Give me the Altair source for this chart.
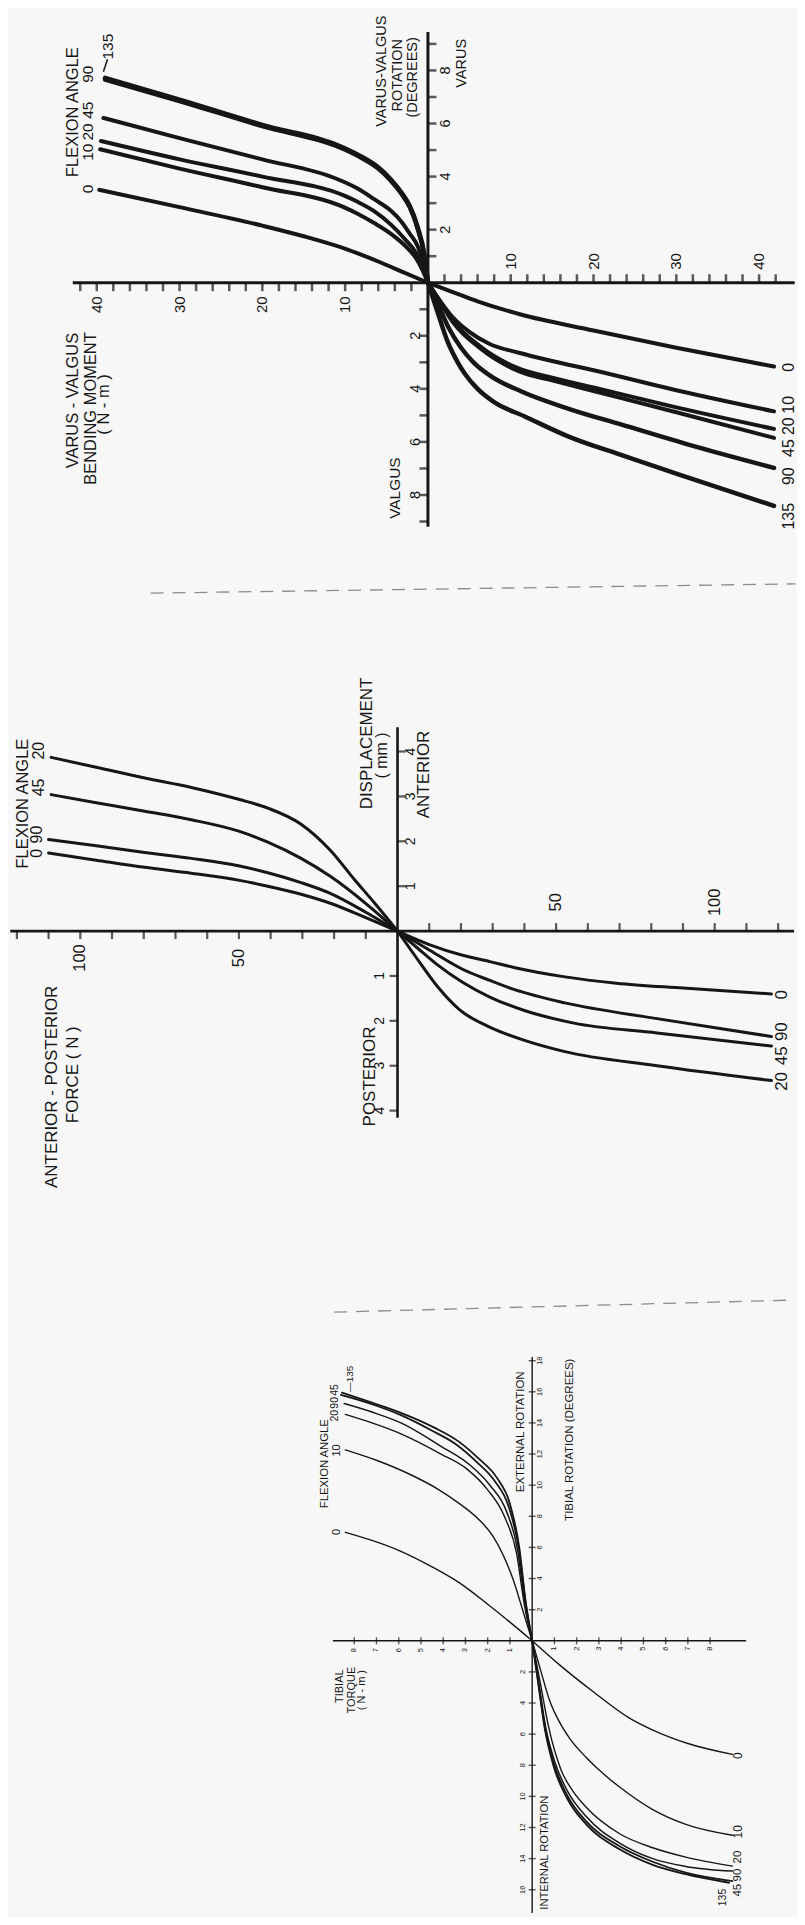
import altair as alt
import pandas as pd

INK = "#161616"
BG = "#f7f7f7"
FONT = "Liberation Sans"
WIDTH = 789

# ================= Panel A : varus-valgus (moment N·m vs rotation deg) =================
A_varus = {  # flexion angle -> (bending moment, varus rotation)
    "0":   ([0, 3, 6, 9.7, 15, 20, 30, 39.7], [0, 0.4, 0.8, 1.25, 1.75, 2.15, 2.85, 3.5]),
    "10":  ([0, 0.7, 1.5, 2.4, 4.5, 6.5, 8.5, 10.1, 20, 30, 39.6], [0, 0.5, 0.95, 1.28, 1.85, 2.25, 2.6, 2.84, 3.6, 4.3, 5.03]),
    "20":  ([0, 0.6, 1.5, 2.8, 4.5, 6.5, 8.5, 10.1, 20, 30, 39.5], [0, 0.55, 1.15, 1.65, 2.2, 2.7, 3.05, 3.28, 4.0, 4.65, 5.34]),
    "45":  ([0, 0.5, 1.2, 2.2, 3.2, 4.5, 6.5, 8.5, 10.9, 20, 30, 39.2], [0, 0.65, 1.35, 1.85, 2.3, 2.72, 3.15, 3.55, 3.9, 4.65, 5.45, 6.21]),
    "90":  ([0, 0.4, 1.3, 2.2, 3.2, 4.5, 6, 8, 10.1, 20, 30, 39.0], [0, 0.95, 2.1, 2.85, 3.35, 3.85, 4.3, 4.7, 5.03, 5.9, 6.85, 7.66]),
    "135": ([0, 0.4, 1.3, 2.2, 3.2, 4.5, 6, 8, 10.1, 20, 30, 39.0], [0, 1.0, 2.15, 2.9, 3.4, 3.9, 4.35, 4.75, 5.08, 5.95, 6.9, 7.72]),
}
A_valgus = {  # flexion angle -> (bending moment, valgus rotation)
    "0":   ([0, 3, 6, 11.1, 20, 30, 41.8], [0, 0.35, 0.7, 1.19, 1.8, 2.45, 3.16]),
    "10":  ([0, 1.5, 3, 5, 7.4, 11.1, 15, 20, 30, 41.8], [0, 0.7, 1.3, 1.85, 2.3, 2.65, 2.95, 3.3, 4.05, 4.85]),
    "20":  ([0, 1.45, 3.05, 6.3, 11.1, 15, 20, 30, 41.8], [0, 0.69, 1.45, 2.4, 3.25, 3.58, 3.95, 4.7, 5.51]),
    "45":  ([0, 1.45, 3.05, 6.3, 11.1, 15, 20, 30, 41.8], [0, 0.72, 1.5, 2.47, 3.35, 3.68, 4.08, 4.88, 5.85]),
    "90":  ([0, 1.2, 2.5, 4, 5.5, 7.5, 11.3, 17, 23.4, 32, 41.8], [0, 0.8, 1.7, 2.45, 3.0, 3.5, 4.1, 4.75, 5.35, 6.15, 6.98]),
    "135": ([0, 1, 2.4, 3.6, 4.5, 6, 8, 11.7, 17, 23.4, 32, 41.8], [0, 0.95, 2.24, 3.0, 3.45, 4.0, 4.5, 5.04, 5.8, 6.5, 7.4, 8.41]),
}
A_widths = {"0": 4, "10": 4, "20": 4, "45": 4, "90": 4.5, "135": 4.5}
A_moment_ticks = list(range(2, 43, 2))
A_rot_ticks = list(range(1, 10))
A_moment_labels = [10, 20, 30, 40]
A_rot_labels = [2, 4, 6, 8]

# ================= Panel B : anterior-posterior (force N vs displacement mm) =================
B_anterior = {
    "0":  ([0, 10, 21.2, 30.4, 40.9, 49.8, 65, 79.7, 95, 110], [0, 0.3, 0.62, 0.82, 1.0, 1.13, 1.29, 1.42, 1.58, 1.74]),
    "90": ([0, 10, 21.2, 30.4, 40.9, 49.8, 65, 79.7, 95, 110], [0, 0.42, 0.84, 1.08, 1.3, 1.45, 1.62, 1.75, 1.9, 2.04]),
    "45": ([0, 9.4, 21.2, 30.4, 40.9, 49.8, 65, 79.7, 95, 109.2], [0, 0.58, 1.22, 1.62, 1.98, 2.22, 2.48, 2.67, 2.86, 3.04]),
    "20": ([0, 7.3, 13.6, 21.2, 30.4, 40.9, 49.8, 65, 79.7, 95, 109.2], [0, 0.63, 1.15, 1.8, 2.38, 2.74, 2.93, 3.2, 3.41, 3.65, 3.87]),
}
B_posterior = {
    "0":  ([0, 10, 20.5, 29.1, 36.7, 52.8, 69, 90, 117.9], [0, 0.3, 0.54, 0.68, 0.81, 1.02, 1.16, 1.27, 1.40]),
    "90": ([0, 10, 20.5, 29.1, 36.7, 52.8, 81.8, 117.9], [0, 0.42, 0.85, 1.1, 1.3, 1.6, 1.95, 2.35]),
    "45": ([0, 6, 12.2, 20.5, 29.1, 40, 55.6, 81.8, 117.9], [0, 0.36, 0.73, 1.14, 1.47, 1.77, 2.05, 2.27, 2.56]),
    "20": ([0, 6, 12.2, 19.7, 29.4, 39.8, 52.4, 81.8, 117.9], [0, 0.6, 1.2, 1.76, 2.15, 2.43, 2.68, 3.0, 3.33]),
}
B_widths = {"0": 3, "90": 3, "45": 3, "20": 3}
B_force_ticks = list(range(10, 121, 10))
B_disp_ticks = [1, 2, 3, 4]
B_force_labels = [50, 100]
B_disp_labels = [1, 2, 3, 4]

# ================= Panel C : tibial torque (N·m) vs tibial rotation (deg) =================
C_external = {
    "0":   ([0, 1, 2, 3.3, 4.5, 5.9, 7.2, 8.4], [0, 1.2, 2.35, 3.75, 4.75, 5.75, 6.45, 6.97]),
    "10":  ([0, 0.4, 0.86, 1.3, 1.78, 2.4, 3.16, 4.3, 5.46, 7, 8.4], [0, 1.85, 3.95, 5.5, 6.76, 7.8, 8.7, 9.8, 10.67, 11.6, 12.27]),
    "20":  ([0, 0.35, 0.7, 1.25, 2.0, 2.9, 4.1, 5.9, 7.2, 8.4], [0, 2.3, 5.6, 8.0, 9.7, 11.0, 12.0, 13.3, 14.0, 14.55]),
    "90":  ([0, 0.33, 0.65, 1.15, 1.9, 2.8, 4.1, 5.9, 7.2, 8.45], [0, 2.4, 5.8, 8.3, 10.0, 11.3, 12.5, 14.0, 14.7, 15.25]),
    "45":  ([0, 0.3, 0.6, 1.05, 1.7, 2.5, 3.4, 4.5, 5.9, 7.2, 8.6], [0, 2.5, 5.9, 8.6, 10.3, 11.5, 12.6, 13.5, 14.5, 15.2, 15.8]),
    "135": ([0, 0.3, 0.58, 1.0, 1.6, 2.4, 3.3, 4.4, 5.9, 7.2, 8.55], [0, 2.6, 6.0, 8.8, 10.5, 11.7, 12.8, 13.7, 14.65, 15.3, 15.95]),
}
C_internal = {
    "0":   ([0, 1.23, 2.73, 4.37, 5.4, 7, 9.0], [0, 1.55, 3.26, 4.97, 5.72, 6.6, 7.3]),
    "10":  ([0, 0.4, 0.8, 1.2, 1.7, 2.43, 3.2, 3.93, 5.42, 6.91, 9.0], [0, 2.0, 3.9, 5.15, 6.3, 7.5, 8.55, 9.4, 10.85, 11.8, 12.5]),
    "20":  ([0, 0.35, 0.75, 1.3, 1.8, 2.43, 3.93, 5.42, 6.9, 9.0], [0, 2.6, 5.6, 8.3, 9.6, 10.7, 12.4, 13.3, 13.9, 14.48]),
    "90":  ([0, 0.3, 0.6, 1.0, 1.6, 2.43, 3.93, 5.42, 6.9, 9.0], [0, 2.7, 5.5, 7.7, 9.7, 11.3, 13.0, 14.0, 14.5, 14.8]),
    "45":  ([0, 0.28, 0.58, 0.98, 1.6, 2.43, 3.93, 5.42, 6.9, 9.0], [0, 2.7, 5.6, 7.9, 10.0, 11.6, 13.2, 14.2, 14.9, 15.44]),
    "135": ([0, 0.27, 0.56, 0.95, 1.6, 2.43, 3.93, 5.42, 6.9, 8.85], [0, 2.7, 5.6, 8.0, 10.2, 11.8, 13.4, 14.4, 15.0, 15.55]),
}
C_widths = {"0": 1.4, "10": 1.4, "20": 1.4, "90": 1.5, "45": 1.8, "135": 1.8}
C_torque_ticks = [1, 2, 3, 4, 5, 6, 7, 8]
C_rot_ticks_up = list(range(2, 19, 2))
C_rot_ticks_down = list(range(2, 17, 2))
C_torque_labels = [1, 2, 3, 4, 5, 6, 7, 8]

# ---------------- layout (pixel frames of each panel) ----------------
FRAME_A = dict(h=592, ox=420, oy=273, sx=8.3, sy=26.6)
FRAME_B = dict(h=700, ox=389.5, oy=331, sx=3.18, sy=45)
FRAME_C = dict(h=617, ox=524.5, oy=342.5, sx=22.3, sy=15.6)


def scales(fr):
    xs = alt.Scale(domain=[-fr["ox"] / fr["sx"], (WIDTH - fr["ox"]) / fr["sx"]], nice=False, zero=False)
    ys = alt.Scale(domain=[-(fr["h"] - fr["oy"]) / fr["sy"], fr["oy"] / fr["sy"]], nice=False, zero=False)
    return xs, ys


def curve_df(upper, lower, widths):
    rows = []
    for name, (a, b) in upper.items():
        for i, (u, v) in enumerate(zip(a, b)):
            rows.append(dict(c="U" + name, i=i, x=-u, y=v, w=widths[name]))
    for name, (a, b) in lower.items():
        for i, (u, v) in enumerate(zip(a, b)):
            rows.append(dict(c="L" + name, i=i, x=u, y=-v, w=widths[name]))
    return pd.DataFrame(rows)


def make_panel(fr, upper, lower, widths, axis_ext, tick_sets, label_sets, texts, rules, st):
    xs, ys = scales(fr)

    def X(f):
        return alt.X(f, scale=xs, axis=None)

    def Y(f):
        return alt.Y(f, scale=ys, axis=None)

    layers = []
    xmin, xmax, ymin, ymax = axis_ext
    ax = pd.DataFrame({"x": [xmin, 0.0], "x2": [xmax, 0.0], "y": [0.0, ymin], "y2": [0.0, ymax]})
    layers.append(alt.Chart(ax).mark_rule(color=INK, strokeWidth=st["axis"]).encode(
        x=X("x:Q"), x2="x2:Q", y=Y("y:Q"), y2="y2:Q"))

    for vals, kind, off in tick_sets:
        if kind == "h":
            df = pd.DataFrame({"x": vals, "y": [0.0] * len(vals)})
            mk = alt.Chart(df).mark_tick(orient="vertical", color=INK, size=st["tick"],
                                         thickness=st["tickw"], yOffset=off)
        else:
            df = pd.DataFrame({"x": [0.0] * len(vals), "y": vals})
            mk = alt.Chart(df).mark_tick(orient="horizontal", color=INK, size=st["tick"],
                                         thickness=st["tickw"], xOffset=off)
        layers.append(mk.encode(x=X("x:Q"), y=Y("y:Q")))

    for vals, kind, pos, fs in label_sets:
        if kind == "h":
            df = pd.DataFrame({"x": vals, "y": [pos] * len(vals), "t": [str(abs(v)) for v in vals]})
        else:
            df = pd.DataFrame({"x": [pos] * len(vals), "y": vals, "t": [str(abs(v)) for v in vals]})
        layers.append(alt.Chart(df).mark_text(angle=270, font=FONT, color=INK, fontSize=fs,
                                              align="center", baseline="middle").encode(
            x=X("x:Q"), y=Y("y:Q"), text="t:N"))

    cdf = curve_df(upper, lower, widths)
    layers.append(alt.Chart(cdf).mark_line(color=INK, strokeCap="round", strokeJoin="round",
                                           interpolate="monotone").encode(
        x=X("x:Q"), y=Y("y:Q"), detail="c:N", order="i:Q",
        strokeWidth=alt.StrokeWidth("w:Q", scale=None)))

    tdf = pd.DataFrame(texts, columns=["t", "x", "y", "fs"])
    layers.append(alt.Chart(tdf).mark_text(angle=270, font=FONT, color=INK,
                                           align="center", baseline="middle").encode(
        x=X("x:Q"), y=Y("y:Q"), text="t:N", size=alt.Size("fs:Q", scale=None)))

    for r in rules:
        df = pd.DataFrame({"x": [r["x"]], "x2": [r["x2"]], "y": [r["y"]], "y2": [r["y2"]]})
        kw = dict(color=r.get("color", INK), strokeWidth=r.get("w", 1.5))
        if "dash" in r:
            kw["strokeDash"] = r["dash"]
        layers.append(alt.Chart(df).mark_rule(**kw).encode(
            x=X("x:Q"), x2="x2:Q", y=Y("y:Q"), y2="y2:Q"))

    return alt.layer(*layers).properties(width=WIDTH, height=fr["h"])


neg = lambda v: [-x for x in v]

# ---------------- Panel A ----------------
A_texts = [
    ("FLEXION ANGLE", -42.9, 6.43, 16.5),
    ("0", -41.0, 3.53, 15.5), ("10", -41.0, 4.92, 15.5), ("20", -41.0, 5.68, 15.5),
    ("45", -41.0, 6.5, 15.5), ("90", -41.0, 7.86, 15.5), ("135", -38.6, 8.9, 15.5),
    ("VARUS - VALGUS", -42.9, -4.44, 16.5), ("BENDING  MOMENT", -40.7, -4.74, 16.5), ("( N - m )", -39.1, -4.59, 16.5),
    ("VARUS-VALGUS", -5.54, 7.97, 14.5), ("ROTATION", -3.61, 7.82, 14.5), ("(DEGREES)", -1.81, 7.74, 14.5),
    ("VARUS", 4.1, 8.27, 14.5), ("VALGUS", -3.98, -7.74, 15.5),
    ("0", 43.6, -3.19, 16), ("10", 43.6, -4.6, 16), ("20", 43.6, -5.41, 16),
    ("45", 43.6, -6.23, 16), ("90", 43.6, -7.29, 16), ("135", 43.6, -8.8, 16),
]
A_rules = [
    dict(x=-39.2, x2=-38.7, y=7.95, y2=8.42, w=1.5),
    dict(x=-33.5, x2=44.4, y=-11.7, y2=-11.35, color="#8c8c8c", w=1.3, dash=[13, 9]),
]
panel_a = make_panel(
    FRAME_A, A_varus, A_valgus, A_widths, (-42.9, 44.3, -9.2, 9.45),
    [(neg(A_moment_ticks), "h", 4), (A_moment_ticks, "h", -4),
     (A_rot_ticks, "v", 4), (neg(A_rot_ticks), "v", -4)],
    [(neg(A_moment_labels), "h", -0.83, 15), (A_moment_labels, "h", 0.8, 15),
     (A_rot_labels, "v", 2.2, 14.5), (neg(A_rot_labels), "v", -1.45, 14.5)],
    A_texts, A_rules, dict(axis=3, tick=9, tickw=2.5))

# ---------------- Panel B ----------------
B_texts = [
    ("FLEXION ANGLE", -118.2, 2.84, 16.5),
    ("0", -113.5, 1.73, 16), ("90", -113.5, 2.15, 16), ("45", -113.0, 3.2, 16), ("20", -113.0, 4.02, 16),
    ("ANTERIOR - POSTERIOR", -109.0, -3.47, 17), ("FORCE  ( N )", -102.4, -3.2, 17),
    ("DISPLACEMENT", -9.6, 4.18, 17), ("( mm )", -4.9, 3.91, 16),
    ("ANTERIOR", 8.2, 3.49, 17), ("POSTERIOR", -8.8, -3.24, 17),
    ("0", 121.2, -1.42, 17), ("90", 121.2, -2.24, 17), ("45", 121.2, -2.78, 17), ("20", 121.2, -3.35, 17),
]
panel_b = make_panel(
    FRAME_B, B_anterior, B_posterior, B_widths, (-122.1, 125.0, -4.16, 4.54),
    [(neg(B_force_ticks), "h", 4), (B_force_ticks, "h", -4),
     (B_disp_ticks, "v", 4), (neg(B_disp_ticks), "v", -4)],
    [(neg(B_force_labels), "h", -0.6, 16.5), (B_force_labels, "h", 0.64, 16.5),
     (B_disp_labels, "v", 4.4, 14), (neg(B_disp_labels), "v", -5.5, 14)],
    B_texts, [], dict(axis=2.6, tick=8, tickw=2.2))

# ---------------- Panel C ----------------
C_texts = [
    ("FLEXION ANGLE", -9.31, 11.38, 11.3),
    ("0", -8.78, 7.0, 11), ("10", -8.78, 12.23, 11), ("20", -8.86, 14.46, 10.5),
    ("90", -8.86, 15.29, 10.5), ("45", -8.86, 16.12, 10.5), ("—135", -8.18, 16.83, 10),
    ("TIBIAL", -8.63, -2.92, 11), ("TORQUE", -8.11, -3.17, 11), ("( N - m )", -7.66, -3.17, 11),
    ("EXTERNAL ROTATION", -0.49, 13.43, 11.5),
    ("TIBIAL ROTATION (DEGREES)", 1.68, 12.92, 11.5),
    ("INTERNAL ROTATION", 0.56, -13.62, 11.2),
    ("0", 9.26, -7.38, 12), ("10", 9.26, -12.28, 12), ("20", 9.26, -13.9, 11.5),
    ("90", 9.26, -15.06, 11.5), ("45", 9.26, -16.03, 11.5), ("135", 8.59, -16.5, 10.5),
]
C_rules = [
    dict(x=-8.9, x2=11.8, y=21.12, y2=21.9, color="#8c8c8c", w=1.3, dash=[13, 9]),
]
panel_c = make_panel(
    FRAME_C, C_external, C_internal, C_widths, (-8.96, 9.62, -17.5, 18.24),
    [(neg(C_torque_ticks), "h", 0), (C_torque_ticks, "h", 0),
     (C_rot_ticks_up, "v", 0), (neg(C_rot_ticks_down), "v", 0)],
    [(neg(C_torque_labels), "h", -0.6, 7.5), (C_torque_labels, "h", -0.5, 7.5),
     (C_rot_ticks_up, "v", 0.34, 7.5), (neg(C_rot_ticks_down), "v", -0.41, 7.5)],
    C_texts, C_rules, dict(axis=1.4, tick=7, tickw=1.4))

chart = alt.vconcat(panel_a, panel_b, panel_c, spacing=0).properties(
    background=BG, padding=0
).configure_view(stroke=None).configure_concat(spacing=0)

chart.save("out.html", embed_options={"renderer": "svg", "actions": False})
